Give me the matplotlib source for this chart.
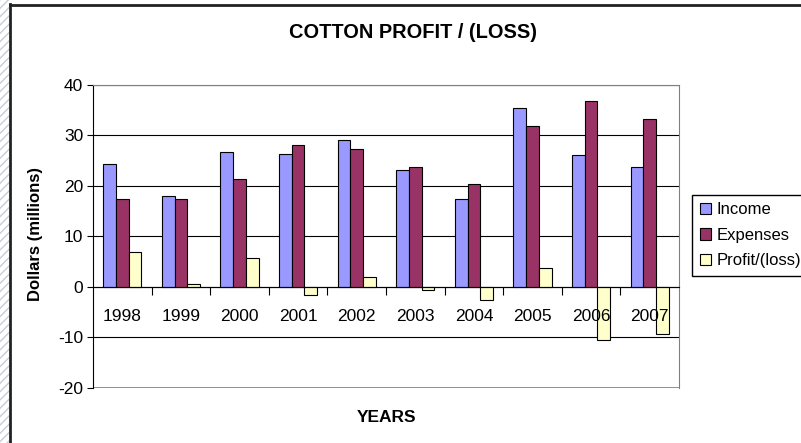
import numpy as np
import matplotlib
matplotlib.use("Agg")
import matplotlib.pyplot as plt
from matplotlib.patches import Rectangle
from matplotlib.lines import Line2D

plt.rcParams['font.family'] = ['Liberation Sans', 'DejaVu Sans']
plt.rcParams['axes.unicode_minus'] = False

years = ['1998', '1999', '2000', '2001', '2002', '2003', '2004', '2005', '2006', '2007']
income = [24.4, 17.9, 26.8, 26.4, 29.0, 23.1, 17.5, 35.4, 26.2, 23.7]
expenses = [17.5, 17.5, 21.3, 28.2, 27.4, 23.7, 20.3, 31.9, 36.8, 33.2]
profit = [6.8, 0.65, 5.7, -1.6, 1.9, -0.6, -2.6, 3.7, -10.5, -9.4]
series_names = ['Income', 'Expenses', 'Profit/(loss)']
colors = ['#9999FF', '#993366', '#FFFFCC']

W, H = 801, 443
fig = plt.figure(figsize=(W / 100, H / 100), dpi=100)

# slide background strip on the left + chart frame
fig.patches.append(Rectangle((0, 0), 9 / W, 1, transform=fig.transFigure,
                             facecolor='white', edgecolor='#c8ccd8', hatch='////',
                             linewidth=0, zorder=0))
fig.lines.append(Line2D([9.5 / W, 9.5 / W], [0, 1 - 4 / H], transform=fig.transFigure,
                        color='#222222', lw=2))
fig.lines.append(Line2D([9.5 / W, 1], [1 - 4.5 / H, 1 - 4.5 / H], transform=fig.transFigure,
                        color='#222222', lw=2))

ax = fig.add_axes([93 / W, 1 - 387.7 / H, (679 - 93) / W, (387.7 - 85) / H])

x = np.arange(len(years))
bw = 0.217
for k, (vals, name, c) in enumerate(zip([income, expenses, profit], series_names, colors)):
    ax.bar(x + (k - 1) * bw, vals, bw, color=c, edgecolor='black', linewidth=0.8,
           label=name, zorder=3)

ax.set_xlim(-0.5, len(years) - 0.5)
ax.set_ylim(-20, 40)
ax.set_yticks(range(-20, 41, 10))
ax.yaxis.grid(True, color='black', linewidth=0.8)
ax.yaxis.set_zorder(1)
ax.xaxis.set_zorder(5)  # year labels sit on top of the bars
ax.tick_params(axis='y', direction='out', length=4, width=0.8, labelsize=12.5, pad=3)

ax.spines['bottom'].set_position(('data', 0))
ax.spines['bottom'].set_zorder(4)
ax.spines['bottom'].set_color('black')
ax.spines['left'].set_color('black')
for s in ['top', 'right']:
    ax.spines[s].set_color('#808080')
ax.axhline(-20, color='#808080', lw=1.2, zorder=2)

ax.set_xticks(x)
ax.set_xticklabels(years)
ax.set_xticks(np.arange(0.5, len(years) - 0.5, 1), minor=True)
ax.tick_params(axis='x', which='major', length=0, labelsize=12.5, pad=16)
ax.tick_params(axis='x', which='minor', direction='out', length=5.5, width=0.8)

fig.text(413 / W, 1 - 32 / H, 'COTTON PROFIT / (LOSS)', ha='center', va='center',
         fontsize=14.4, fontweight='bold')
fig.text(36 / W, 1 - 234 / H, 'Dollars (millions)', ha='center', va='center',
         rotation=90, fontsize=12, fontweight='bold')
fig.text(387 / W, 1 - 418 / H, 'YEARS', ha='center', va='center',
         fontsize=12.5, fontweight='bold')

leg = fig.legend(loc='upper left', bbox_to_anchor=(692 / W, 1 - 195 / H), fontsize=12,
                 frameon=True, fancybox=False, edgecolor='black', framealpha=1,
                 handlelength=0.7, handleheight=0.65, handletextpad=0.35,
                 labelspacing=0.62, borderpad=0.45, borderaxespad=0)
leg.get_frame().set_linewidth(1)

fig.savefig('out.png', dpi=100)
